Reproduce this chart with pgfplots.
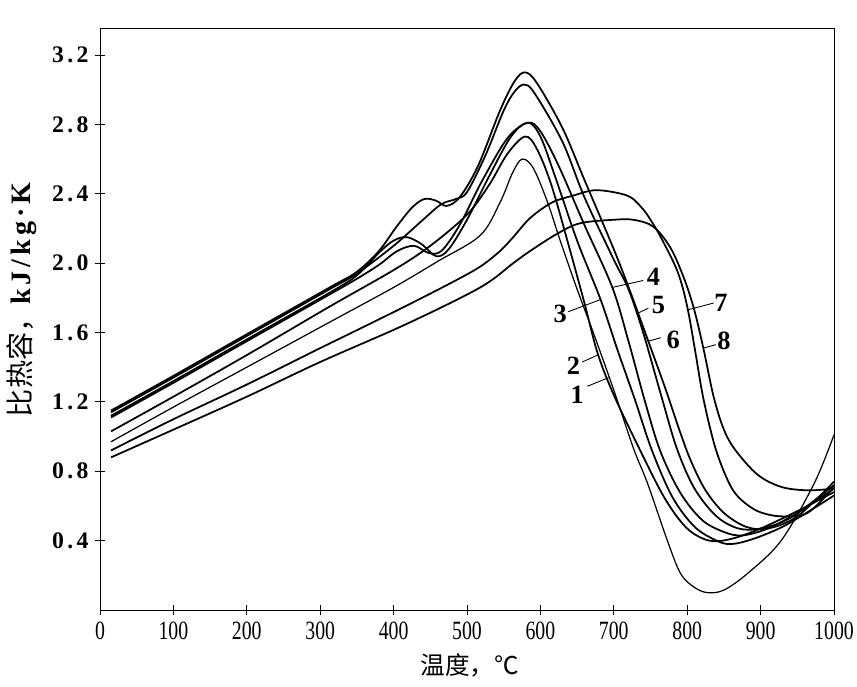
\documentclass[border=0pt]{standalone}
\usepackage{graphicx}
\usepackage{pgfplots}
\pgfplotsset{compat=1.18}
\usepackage{fontspec}
\setmainfont{Liberation Serif}
\newfontfamily\cjk{Noto Sans CJK SC}
\newfontfamily\yfont[LetterSpace=14]{Liberation Serif}
\newcommand\sx[1]{\scalebox{0.75}[1]{#1}}
\begin{document}
\begin{tikzpicture}
\begin{axis}[
  width=14.68cm, height=11.64cm, scale only axis,
  xmin=0, xmax=1000, ymin=0, ymax=3.356,
  axis line style={line width=0.5pt},
  xtick={0,100,200,300,400,500,600,700,800,900,1000},
  xticklabels={\sx{0},\sx{100},\sx{200},\sx{300},\sx{400},\sx{500},\sx{600},\sx{700},\sx{800},\sx{900},\sx{1000}},
  ytick={0.4,0.8,1.2,1.6,2.0,2.4,2.8,3.2},
  yticklabels={0.4,0.8,1.2,1.6,2.0,2.4,2.8,3.2},
  xtick pos=bottom, ytick pos=left,
  tick align=center, major tick length=6pt,
  tick style={black, line width=0.5pt},
  xticklabel style={font=\fontsize{15}{16}\selectfont},
  yticklabel style={font=\yfont\bfseries\fontsize{13.5}{15}\selectfont},
  xlabel={\cjk 温度，℃},
  xlabel style={at={(axis description cs:0.504,-0.0945)}, anchor=center, font=\fontsize{14}{16}\selectfont},
  ylabel={{\cjk 比热容，}{\yfont\bfseries kJ/kg·K}},
  ylabel style={at={(axis description cs:-0.106,0.533)}, anchor=center, font=\fontsize{16}{18}\selectfont},
  cv/.style={black, solid, line width=1pt, smooth, tension=0.55, mark=none},
]
% curve 1
\addplot[cv, line width=0.7pt] coordinates {(15,0.97) (100,1.17) (200,1.40) (313,1.66) (400,1.86) (460,2.01) (518,2.16) (545,2.35) (562,2.52) (575,2.60) (590,2.55) (609,2.36) (627,2.13) (650,1.85) (672,1.60) (699,1.28) (727,0.93) (746,0.73) (773,0.40) (791,0.21) (810,0.13) (828,0.10) (850,0.115) (882,0.21) (928,0.40) (973,0.73) (1000,1.01)};
% curve 2
\addplot[cv] coordinates {(15,1.03) (100,1.23) (200,1.47) (313,1.75) (400,1.96) (450,2.10) (500,2.28) (530,2.45) (555,2.63) (579,2.73) (595,2.66) (615,2.45) (640,2.08) (660,1.77) (678,1.48) (700,1.24) (736,0.92) (770,0.64) (800,0.47) (830,0.40) (860,0.41) (900,0.47) (950,0.57) (1000,0.68)};
% curve 3
\addplot[cv] coordinates {(15,1.12) (100,1.32) (200,1.56) (313,1.83) (350,1.93) (380,2.06) (400,2.13) (418,2.15) (438,2.11) (458,2.04) (475,2.08) (500,2.25) (530,2.50) (560,2.73) (583,2.81) (600,2.73) (620,2.50) (650,2.13) (682,1.79) (705,1.50) (729,1.21) (752,0.92) (780,0.65) (810,0.48) (840,0.40) (860,0.38) (890,0.41) (930,0.48) (970,0.58) (1000,0.66)};
% curve 4
\addplot[cv] coordinates {(15,1.11) (100,1.31) (200,1.55) (313,1.82) (350,1.91) (380,1.99) (405,2.07) (428,2.10) (447,2.06) (465,2.07) (490,2.22) (520,2.47) (555,2.72) (583,2.81) (600,2.76) (625,2.56) (660,2.22) (698,1.86) (720,1.55) (742,1.21) (763,0.92) (790,0.68) (820,0.52) (850,0.45) (875,0.43) (910,0.47) (950,0.56) (1000,0.70)};
% curve 5
\addplot[cv] coordinates {(15,1.14) (100,1.34) (200,1.58) (313,1.85) (350,1.94) (400,2.10) (440,2.25) (465,2.34) (485,2.37) (500,2.41) (525,2.62) (550,2.88) (565,2.99) (578,3.03) (592,2.98) (630,2.70) (660,2.38) (700,2.02) (720,1.85) (740,1.60) (765,1.23) (786,0.93) (810,0.70) (840,0.54) (870,0.47) (900,0.47) (940,0.53) (1000,0.72)};
% curve 6
\addplot[cv] coordinates {(15,1.15) (100,1.35) (200,1.59) (313,1.86) (350,1.95) (380,2.07) (404,2.21) (425,2.32) (442,2.37) (458,2.36) (472,2.33) (490,2.38) (515,2.56) (545,2.88) (565,3.05) (579,3.10) (595,3.04) (630,2.78) (660,2.48) (700,2.08) (722,1.84) (747,1.55) (770,1.28) (790,1.03) (805,0.86) (825,0.69) (850,0.56) (880,0.48) (910,0.47) (950,0.54) (1000,0.74)};
% curve 7
\addplot[cv] coordinates {(15,0.92) (100,1.10) (200,1.30) (300,1.51) (358,1.63) (420,1.76) (480,1.89) (518,1.98) (545,2.07) (563,2.15) (586,2.26) (616,2.35) (645,2.39) (672,2.42) (699,2.41) (723,2.38) (740,2.31) (750,2.25) (764,2.15) (787,1.95) (800,1.75) (811,1.49) (822,1.22) (838,0.94) (855,0.75) (870,0.65) (896,0.57) (928,0.54) (964,0.56) (1000,0.71)};
% curve 8
\addplot[cv] coordinates {(15,0.88) (100,1.04) (200,1.23) (300,1.43) (418,1.65) (518,1.86) (563,2.00) (586,2.07) (623,2.17) (654,2.23) (699,2.25) (727,2.25) (754,2.21) (777,2.09) (795,1.92) (809,1.74) (822,1.51) (836,1.23) (850,1.04) (866,0.92) (896,0.78) (928,0.71) (964,0.69) (1000,0.70)};
% labels
\begin{scope}[line width=0.5pt]
\draw (664,1.29) -- (693,1.34);
\draw (657,1.43) -- (678,1.47);
\draw (638,1.72) -- (682,1.79);
\draw (740,1.90) -- (698,1.86);
\draw (747,1.74) -- (732,1.71);
\draw (764,1.57) -- (747,1.55);
\draw (836,1.77) -- (800,1.73);
\draw (839,1.53) -- (822,1.51);
\end{scope}
\begin{scope}[every node/.style={font=\bfseries\fontsize{15}{16}\selectfont, inner sep=0pt}]
\node at (650,1.24) {1};
\node at (645,1.41) {2};
\node at (627,1.71) {3};
\node at (754,1.92) {4};
\node at (761,1.76) {5};
\node at (781,1.56) {6};
\node at (846,1.77) {7};
\node at (850,1.55) {8};
\end{scope}
\end{axis}
\pgfresetboundingbox
\path[use as bounding box] ([xshift=-2cm,yshift=-1.54cm]current axis.south west) rectangle ([xshift=0.46cm,yshift=0.56cm]current axis.north east);
\end{tikzpicture}
\end{document}
